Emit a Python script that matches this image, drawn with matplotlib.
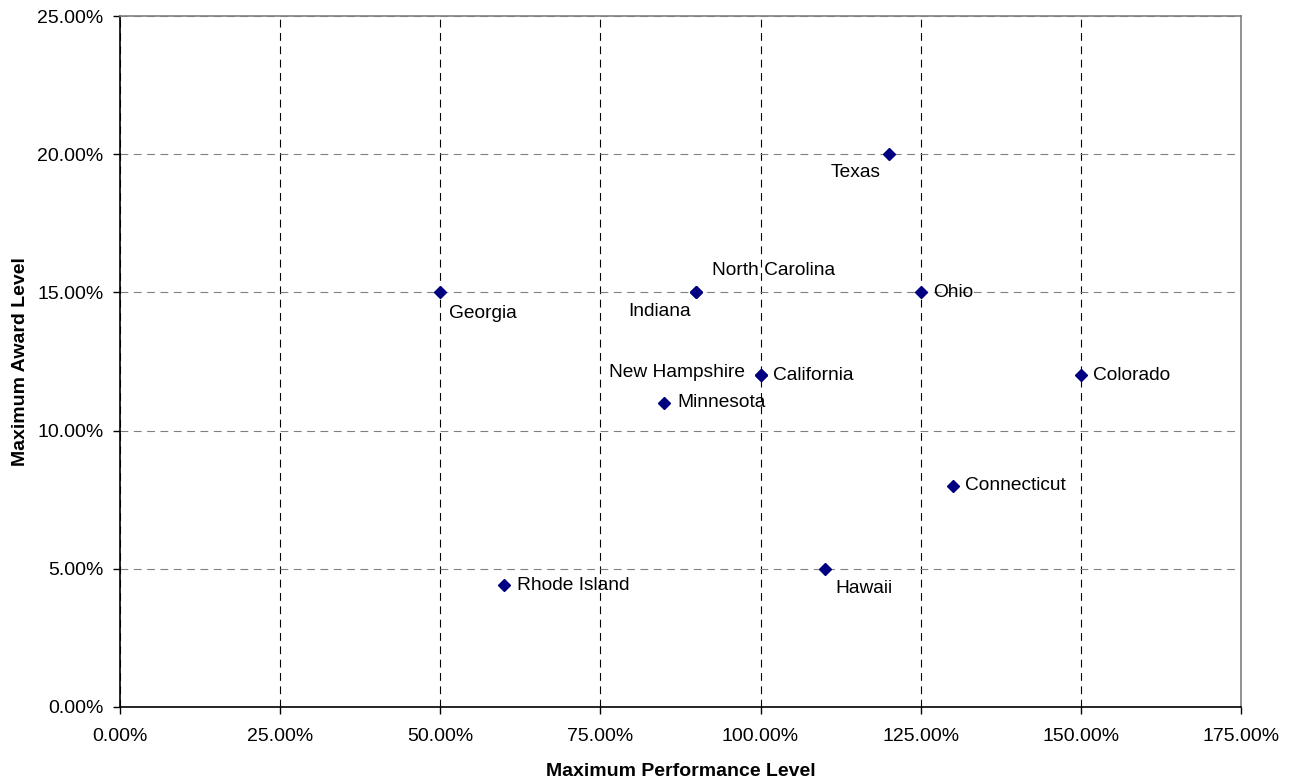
import matplotlib.pyplot as plt
from matplotlib.ticker import FuncFormatter, MultipleLocator

plt.rcParams['font.family'] = ['Liberation Sans', 'DejaVu Sans']

# Estados y sus niveles (en %)
states = ['Georgia', 'Rhode Island', 'Indiana', 'North Carolina', 'Minnesota',
          'California', 'New Hampshire', 'Hawaii', 'Texas', 'Ohio',
          'Connecticut', 'Colorado']
performance = [50, 60, 90, 90, 85, 100, 100, 110, 120, 125, 130, 150]
award = [15, 4.4, 15, 15, 11, 12, 12, 5, 20, 15, 8, 12]

# Desplazamiento de cada etiqueta (puntos) y alineacion
offsets = {
    'Georgia': (6, -15, 'left'),
    'Rhode Island': (9, 0, 'left'),
    'Indiana': (-4, -14, 'right'),
    'North Carolina': (11, 16, 'left'),
    'Minnesota': (9, 0, 'left'),
    'California': (9, 0, 'left'),
    'New Hampshire': (-11, 2, 'right'),
    'Hawaii': (8, -14, 'left'),
    'Texas': (-6, -13, 'right'),
    'Ohio': (9, 0, 'left'),
    'Connecticut': (9, 0, 'left'),
    'Colorado': (9, 0, 'left'),
}

fig = plt.figure(figsize=(12.99, 7.81), dpi=100)
ax = fig.add_axes([0.0924, 0.0948, 0.8629, 0.8847])

ax.plot(performance, award, linestyle='none', marker='D', markersize=6,
        color='#000080', zorder=3)

for name, x, y in zip(states, performance, award):
    dx, dy, ha = offsets[name]
    ax.annotate(name, (x, y), xytext=(dx, dy), textcoords='offset points',
                ha=ha, va='center', fontsize=13.8, color='black')

ax.set_xlim(0, 175)
ax.set_ylim(0, 25)
ax.xaxis.set_major_locator(MultipleLocator(25))
ax.yaxis.set_major_locator(MultipleLocator(5))
fmt = FuncFormatter(lambda v, pos: '%.2f%%' % v)
ax.xaxis.set_major_formatter(fmt)
ax.yaxis.set_major_formatter(fmt)

# Rejilla: verticales negras, horizontales grises
ax.grid(axis='x', color='black', linestyle=(0, (7, 5)), linewidth=0.8)
ax.grid(axis='y', color='#808080', linestyle=(0, (7, 5)), linewidth=0.8)
ax.set_axisbelow(True)

ax.spines['left'].set_color('black')
ax.spines['bottom'].set_color('black')
ax.spines['top'].set_color('#808080')
ax.spines['right'].set_color('#808080')
for s in ax.spines.values():
    s.set_linewidth(1.2)

ax.tick_params(direction='out', length=5, width=1, labelsize=14)
ax.tick_params(axis='x', pad=10)
ax.tick_params(axis='y', pad=7)

ax.set_xlabel('Maximum Performance Level', fontsize=14, fontweight='bold', labelpad=13)
ax.set_ylabel('Maximum Award Level', fontsize=14, fontweight='bold', labelpad=6)

fig.savefig('out.png', dpi=100)
